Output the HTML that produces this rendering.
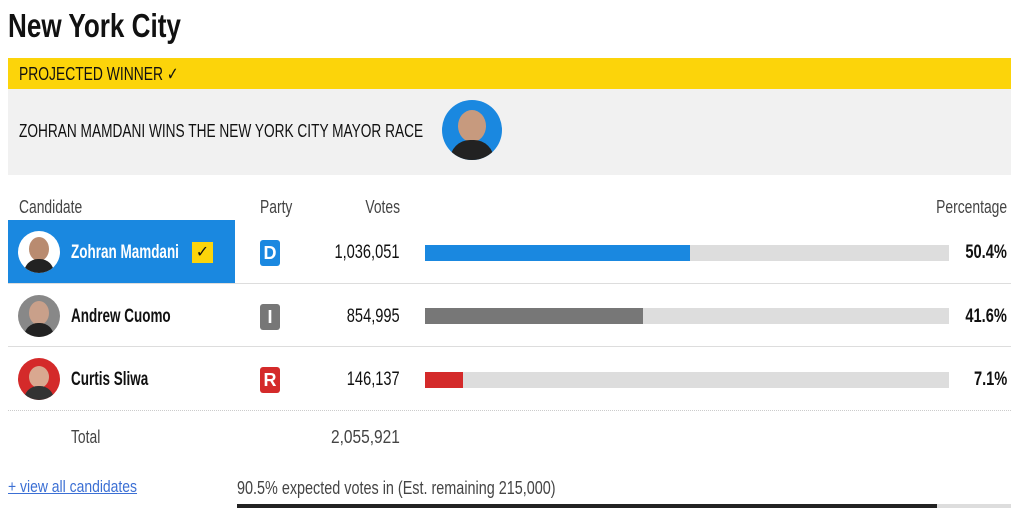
<!DOCTYPE html><html><head><style>
body{margin:0;width:1024px;height:519px;background:#fff;font-family:"Liberation Sans",sans-serif;position:relative;overflow:hidden;color:#111}
div,span{position:absolute}
.t{white-space:nowrap;transform:scaleX(.77);transform-origin:left center}
.r{transform-origin:right center}
.n{font-weight:bold;transform:scaleX(.71)}
.av{width:42px;height:42px;border-radius:50%;overflow:hidden}
.bar{left:425px;width:524px;height:16px;background:#ddd}
.pb{width:20px;height:26px;border-radius:3px;color:#fff;font-size:18px;font-weight:bold;text-align:center;line-height:26px}
</style></head><body>
<div class="t" style="left:8px;top:7px;font-size:33px;font-weight:bold;transform:scaleX(.79)">New York City</div>
<div style="left:8px;top:58px;width:1003px;height:31px;background:#fcd40a"></div>
<div class="t" style="left:19px;top:64px;font-size:18px">PROJECTED WINNER ✓</div>
<div style="left:8px;top:89px;width:1003px;height:86px;background:#f1f1f1"></div>
<div class="t" style="left:19px;top:121px;font-size:18px;transform:scaleX(.76)">ZOHRAN MAMDANI WINS THE NEW YORK CITY MAYOR RACE</div>
<div class="av" style="left:442px;top:100px;width:60px;height:60px;background:#1a88e0"><span style="left:16px;top:10px;width:28px;height:32px;border-radius:50%;background:#c79a7e"></span><span style="left:8px;top:40px;width:44px;height:20px;border-radius:20px 20px 0 0;background:#222"></span></div>
<div class="t" style="left:19px;top:197px;font-size:18px;color:#444">Candidate</div>
<div class="t" style="left:260px;top:197px;font-size:18px;color:#444">Party</div>
<div class="t r" style="right:624px;top:197px;font-size:18px;color:#444">Votes</div>
<div class="t r" style="right:17px;top:197px;font-size:18px;color:#444">Percentage</div>
<div style="left:8px;top:220px;width:227px;height:63px;background:#1a88e0"></div>
<div style="left:8px;top:283px;width:1003px;height:1px;background:#ddd"></div>
<div style="left:8px;top:346px;width:1003px;height:1px;background:#ddd"></div>
<div style="left:8px;top:410px;width:1003px;height:0;border-top:1px dotted #ccc"></div>
<!-- row1 -->
<div class="av" style="left:18px;top:231px;background:#fff"><span style="left:11px;top:6px;width:20px;height:24px;border-radius:50%;background:#b98b70"></span><span style="left:6px;top:28px;width:30px;height:14px;border-radius:15px 15px 0 0;background:#222"></span></div>
<div class="t n" style="left:71px;top:242px;font-size:19px;color:#fff">Zohran Mamdani</div>
<div style="left:192px;top:242px;width:21px;height:21px;background:#fcd40a;font-size:16px;line-height:21px;text-align:center">✓</div>
<div class="pb" style="left:260px;top:240px;background:#1a88e0">D</div>
<div class="t r" style="right:624px;top:242px;font-size:19px">1,036,051</div>
<div class="bar" style="top:245px"><span style="left:0;top:0;width:265px;height:16px;background:#1a88e0"></span></div>
<div class="t r" style="right:17px;top:242px;font-size:19px;font-weight:bold">50.4%</div>
<!-- row2 -->
<div class="av" style="left:18px;top:295px;background:#888"><span style="left:11px;top:6px;width:20px;height:24px;border-radius:50%;background:#c9a08a"></span><span style="left:6px;top:28px;width:30px;height:14px;border-radius:15px 15px 0 0;background:#222"></span></div>
<div class="t n" style="left:71px;top:306px;font-size:19px">Andrew Cuomo</div>
<div class="pb" style="left:260px;top:304px;background:#777">I</div>
<div class="t r" style="right:624px;top:306px;font-size:19px">854,995</div>
<div class="bar" style="top:308px"><span style="left:0;top:0;width:218px;height:16px;background:#777"></span></div>
<div class="t r" style="right:17px;top:306px;font-size:19px;font-weight:bold">41.6%</div>
<!-- row3 -->
<div class="av" style="left:18px;top:358px;background:#d42a2a"><span style="left:11px;top:8px;width:20px;height:22px;border-radius:50%;background:#d9a890"></span><span style="left:6px;top:28px;width:30px;height:14px;border-radius:15px 15px 0 0;background:#333"></span></div>
<div class="t n" style="left:71px;top:369px;font-size:19px">Curtis Sliwa</div>
<div class="pb" style="left:260px;top:367px;background:#d42a2a">R</div>
<div class="t r" style="right:624px;top:369px;font-size:19px">146,137</div>
<div class="bar" style="top:372px"><span style="left:0;top:0;width:38px;height:16px;background:#d42a2a"></span></div>
<div class="t r" style="right:17px;top:369px;font-size:19px;font-weight:bold">7.1%</div>
<div class="t" style="left:71px;top:427px;font-size:18px;color:#444">Total</div>
<div class="t" style="left:331px;top:427px;font-size:18px;color:#444;transform:scaleX(.86)">2,055,921</div>
<div class="t" style="left:8px;top:477px;font-size:17px;color:#3b6fd4;text-decoration:underline;transform:scaleX(.82)">+ view all candidates</div>
<div class="t" style="left:237px;top:478px;font-size:18px;color:#444;transform:scaleX(.8)">90.5% expected votes in (Est. remaining 215,000)</div>
<div style="left:237px;top:504px;width:774px;height:4px;background:#ddd"><span style="left:0;top:0;width:700px;height:4px;background:#222"></span></div>
</body></html>
